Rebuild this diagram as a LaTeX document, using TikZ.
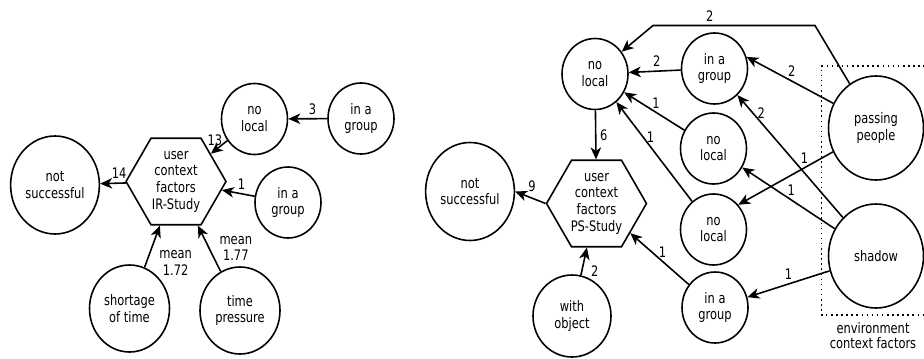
\documentclass[tikz,border=0pt]{standalone}
\usepackage{fontspec}
\setmainfont{DejaVu Sans}[FakeStretch=0.79]
\usetikzlibrary{shapes.geometric, arrows.meta}

\begin{document}
\begin{tikzpicture}[font=\fontsize{8.25}{9.5}\selectfont, line width=0.9pt,
  >={Stealth[length=2.4mm, width=2.1mm, inset=0.7mm]}]
\tikzset{el/.style={draw, ellipse, align=center, inner sep=1pt, minimum width=1.32cm, minimum height=1.42cm},
  hx/.style={draw, regular polygon, regular polygon sides=6, align=center, inner sep=0pt, minimum size=1.88cm},
  lbl/.style={inner sep=2pt}}

\useasboundingbox (0,0) rectangle (18.48,-7.16);

% IR-Study
\node[hx] (hexL) at (3.52,-3.63) {user\\context\\factors\\IR-Study};
\node[el, minimum width=1.7cm, minimum height=1.96cm] (nsL) at (1.10,-3.70) {not\\successful};
\node[el] (nlL) at (5.09,-2.38) {no\\local};
\node[el] (igL1) at (7.22,-2.37) {in a\\group};
\node[el] (igL2) at (5.76,-4.05) {in a\\group};
\node[el, minimum width=1.6cm, minimum height=1.74cm] (shortage) at (2.59,-6.17) {shortage\\of time};
\node[el, minimum width=1.6cm, minimum height=1.74cm] (timepr) at (4.80,-6.21) {time\\pressure};

% PS-Study
\node[hx] (hexR) at (11.93,-4.07) {user\\context\\factors\\PS-Study};
\node[el, minimum width=1.7cm, minimum height=1.96cm] (nsR) at (9.40,-3.83) {not\\successful};
\node[el] (nlR1) at (11.90,-1.48) {no\\local};
\node[el, minimum width=1.56cm, minimum height=1.64cm] (withobj) at (11.44,-6.32) {with\\object};
\node[el] (igR1) at (14.29,-1.37) {in a\\group};
\node[el] (nlR2) at (14.27,-2.97) {no\\local};
\node[el] (nlR3) at (14.27,-4.59) {no\\local};
\node[el] (igR2) at (14.30,-6.15) {in a\\group};

% environment context factors
\node[el, minimum width=1.9cm, minimum height=2.08cm] (pp) at (17.52,-2.56) {passing\\people};
\node[el, minimum width=1.9cm, minimum height=2.08cm] (shadow) at (17.52,-5.12) {shadow};
\draw[dotted] (18.6,-1.32) -| (16.43,-6.30) -- (18.6,-6.30);
\node[align=center, font=\fontsize{8.25}{8.6}\selectfont] (envlbl) at (17.46,-6.72) {environment\\context factors};

\coordinate (topR) at (16.30,-0.51);
\coordinate (topL) at (13.06,-0.51);

% Connections IR-Study
\draw[->] (hexL) -- node[lbl, pos=0.26, above] (l14) {14} (nsL);
\draw[->] (nlL) -- node[lbl, pos=0, left, inner sep=2.5pt] (l13) {13} (hexL);
\draw[->] (igL1) -- node[lbl, pos=0.38, above] (l3) {3} (nlL);
\draw[->] (igL2) -- node[lbl, pos=0.4, above] (l1a) {1} (hexL);
\draw[->] (shortage) -- node[lbl, pos=0.1, right=0.18cm, align=center] (lm1) {mean\\1.72} (hexL);
\draw[->] (timepr) -- node[lbl, pos=0.5, right=0.12cm, align=center] (lm2) {mean\\1.77} (hexL);

% Connections PS-Study
\draw[->] (hexR.west) -- node[lbl, pos=0.45, above, inner sep=3pt] (l9) {9} (nsR.east);
\draw[->] (nlR1) -- node[lbl, pos=0.5, right] (l6) {6} (hexR);
\draw[->] (withobj) -- node[lbl, pos=0.15, right=0.1cm] (l2w) {2} (hexR);
\draw[->] (igR2) -- node[lbl, pos=0.45, above] (l1b) {1} (hexR);
\draw[->] (igR1) -- node[lbl, pos=0.46, above] (l2a) {2} (nlR1);
\draw[->] (nlR2) -- node[lbl, pos=0.47, above] (l1c) {1} (nlR1);
\draw[->] (nlR3) -- node[lbl, pos=0.55, above] (l1d) {1} (nlR1);

\draw[->] (pp) -- (topR) -- node[lbl, pos=0.65, above] (l2b) {2} (topL) -- (nlR1);
\draw[->] (pp.150) -- node[lbl, pos=0.48, above] (l2c) {2} (igR1.20);
\draw[->] (pp.209) -- node[lbl, pos=0.3, above] (l1e) {1} (nlR3.45);
\draw[->] (shadow) -- node[lbl, pos=0.85, right] (l2d) {2} (igR1);
\draw[->] (shadow) -- node[lbl, pos=0.47, above] (l1f) {1} (nlR2);
\draw[->] (shadow) -- node[lbl, pos=0.5, above] (l1g) {1} (igR2);

\end{tikzpicture}
\end{document}
